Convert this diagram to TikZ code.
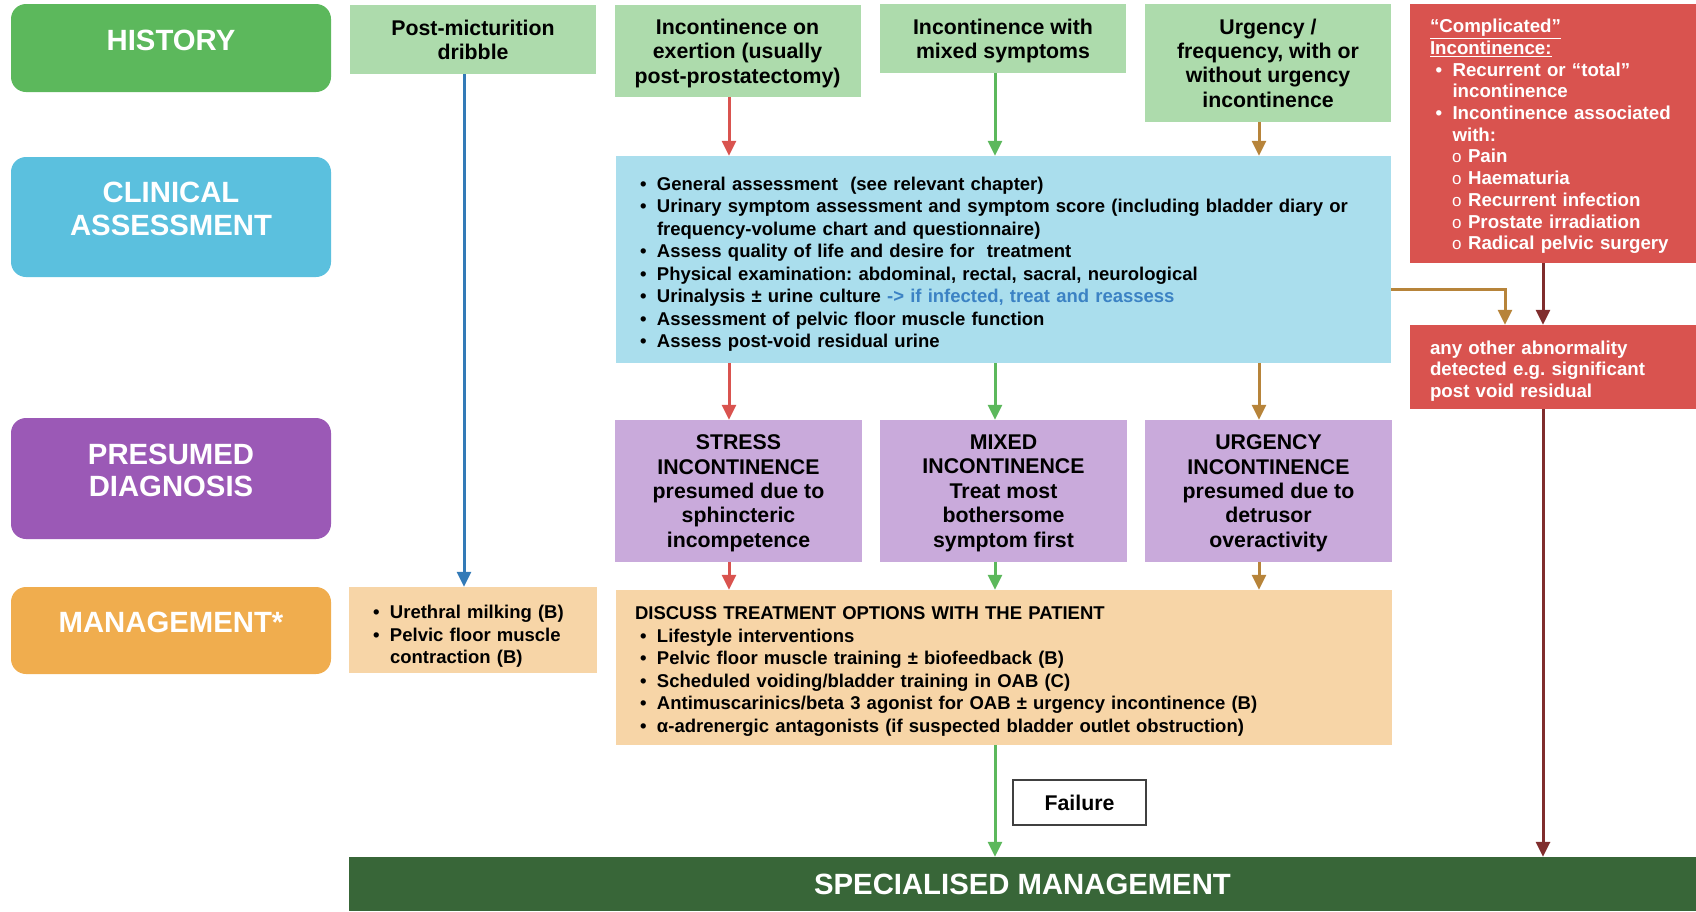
\documentclass[tikz,border=0pt]{standalone}
\usepackage{fontspec}
\setmainfont{Liberation Sans}
\usepackage{xcolor}
\usetikzlibrary{arrows.meta}

\definecolor{histgreen}{RGB}{92,184,92}
\definecolor{histlight}{RGB}{173,219,172}
\definecolor{clinblue}{RGB}{91,192,222}
\definecolor{clinlight}{RGB}{170,222,237}
\definecolor{diagpurple}{RGB}{155,89,182}
\definecolor{diaglight}{RGB}{201,170,219}
\definecolor{mgmtorange}{RGB}{240,173,78}
\definecolor{mgmtlight}{RGB}{247,213,167}
\definecolor{compred}{RGB}{217,83,79}
\definecolor{specgreen}{RGB}{56,102,56}
\definecolor{arrred}{RGB}{217,83,79}
\definecolor{arrbrown}{RGB}{183,132,58}
\definecolor{arrblue}{RGB}{51,122,183}
\definecolor{arrdark}{RGB}{128,45,45}
\definecolor{linkblue}{RGB}{59,130,196}

\frenchspacing
\newcommand{\bigfont}{\fontsize{29.3}{32.5}\selectfont\bfseries}
\newcommand{\midfont}{\fontsize{21.3}{24.4}\selectfont\bfseries}
\newcommand{\listfont}{\fontsize{18.5}{22.5}\selectfont\bfseries}
\newcommand{\redfont}{\fontsize{18.7}{21.7}\selectfont\bfseries}
\newcommand{\bul}[2][0pt]{\par\hangindent=\dimexpr#1+17pt\relax\hangafter=1\hspace*{#1}\makebox[17pt][l]{\textbullet}#2}
\newcommand{\subbul}[1]{\par\hspace*{22pt}\makebox[16pt][l]{\fontsize{17}{17}\selectfont\mdseries o}#1}
\newcommand{\lift}[1]{\rule{0pt}{#1pt}}
\newcommand{\sidebox}[5]{\node[sidebox,fill=#4,minimum height=#3pt] (#1) at (171,#2) {};
\node[sidetext] (#1t) at ([yshift=8pt]#1.center) {#5};}

\tikzset{
sidebox/.style={rounded corners=15pt, minimum width=320pt, inner sep=0pt},
sidetext/.style={text=white, font=\bigfont, align=center, inner sep=0pt},
headbox/.style={fill=histlight, minimum width=246pt, inner sep=0pt, align=center, font=\midfont, text depth=0pt},
diagbox/.style={fill=diaglight, minimum width=247pt, minimum height=142pt, inner sep=0pt, align=center, font=\midfont, text depth=0pt},
listbox/.style={inner xsep=19pt, inner ysep=0pt, align=left, font=\listfont},
redbox/.style={fill=compred, text=white, inner xsep=20pt, inner ysep=0pt, align=left, font=\redfont},
flow/.style={line width=3pt, -{Triangle[width=14pt,length=15pt]}}
}

\begin{document}
\begin{tikzpicture}[x=1pt,y=-1pt]
\useasboundingbox (0,0) rectangle (1696,911);

\sidebox{hist}{48}{88}{histgreen}{HISTORY}
\sidebox{clin}{217}{120}{clinblue}{CLINICAL\\ASSESSMENT}
\sidebox{diag}{478.5}{121}{diagpurple}{PRESUMED\\DIAGNOSIS}
\sidebox{mgmt}{630.5}{87}{mgmtorange}{MANAGEMENT*}

\node[headbox, minimum height=69pt] (pmd) at (473,39.5) {Post-micturition\\dribble};
\node[headbox, minimum height=92pt] (exer) at (737.5,51) {Incontinence on\\exertion (usually\\post-prostatectomy)};
\node[headbox, minimum height=69pt] (mixs) at (1003,38.5) {Incontinence with\\mixed symptoms};
\node[headbox, minimum height=118pt] (urgf) at (1268,63) {Urgency /\\frequency, with or\\without urgency\\incontinence};

\node[redbox, text width=246pt, minimum height=259pt] (comp) at (1553,133.5) {\lift{19.4}\underline{“Complicated”}\newline\underline{Incontinence:}
\bul[5.5pt]{Recurrent or “total”\newline incontinence}
\bul[5.5pt]{Incontinence associated\newline with:}
\subbul{Pain}
\subbul{Haematuria}
\subbul{Recurrent infection}
\subbul{Prostate irradiation}
\subbul{Radical pelvic surgery}\par};

\node[listbox, fill=clinlight, text width=737pt, minimum height=207pt] (clinbox) at (1003.5,259.5) {%
\bul[5pt]{General assessment~ (see relevant chapter)}
\bul[5pt]{Urinary symptom assessment and symptom score (including bladder diary or\newline frequency-volume chart and questionnaire)}
\bul[5pt]{Assess quality of life and desire for~ treatment}
\bul[5pt]{Physical examination: abdominal, rectal, sacral, neurological}
\bul[5pt]{Urinalysis ± urine culture {\color{linkblue}-> if infected, treat and reassess}}
\bul[5pt]{Assessment of pelvic floor muscle function}
\bul[5pt]{Assess post-void residual urine}\par};

\node[redbox, text width=246pt, minimum height=84pt] (any) at (1553,367) {\lift{21.3}any other abnormality\newline detected e.g. significant\newline post void residual\par};

\node[diagbox] (stress) at (738.5,491) {STRESS\\INCONTINENCE\\presumed due to\\sphincteric\\incompetence};
\node[diagbox] (mixd) at (1003.5,491) {MIXED\\INCONTINENCE\\Treat most\\bothersome\\symptom first};
\node[diagbox] (urgd) at (1268.5,491) {URGENCY\\INCONTINENCE\\presumed due to\\detrusor\\overactivity};

\node[listbox, fill=mgmtlight, text width=210pt, minimum height=86pt] (mgl) at (473,630) {%
\bul[5pt]{\lift{25.5}Urethral milking (B)}
\bul[5pt]{Pelvic floor muscle\newline contraction (B)}\par};
\node[listbox, fill=mgmtlight, text width=738pt, minimum height=155pt] (mgb) at (1004,667.5) {%
\lift{20.5}DISCUSS TREATMENT OPTIONS WITH THE PATIENT
\bul[5pt]{Lifestyle interventions}
\bul[5pt]{Pelvic floor muscle training ± biofeedback (B)}
\bul[5pt]{Scheduled voiding/bladder training in OAB (C)}
\bul[5pt]{Antimuscarinics/beta 3 agonist for OAB ± urgency incontinence (B)}
\bul[5pt]{α-adrenergic antagonists (if suspected bladder outlet obstruction)}\par};

\node[draw=black!75, line width=1.2pt, fill=white, minimum width=133pt, minimum height=45pt, inner sep=0pt, font=\midfont] (fail) at (1079.5,802.5) {Failure};
\node[fill=specgreen, text=white, minimum width=1347pt, minimum height=54pt, inner sep=0pt, font=\bigfont] (spec) at (1022.5,884) {SPECIALISED MANAGEMENT};

\coordinate (colB) at (464,0);
\coordinate (colR) at (729,0);
\coordinate (colG) at (995,0);
\coordinate (colO) at (1259,0);
\coordinate (colE) at (1505,0);
\coordinate (colD) at (1543,0);
\coordinate (tap) at (1391,289);

\draw[flow, arrblue] (pmd.south -| colB) -- (mgl.north -| colB);
\draw[flow, arrred] (exer.south -| colR) -- (clinbox.north -| colR);
\draw[flow, arrred] (clinbox.south -| colR) -- (stress.north -| colR);
\draw[flow, arrred] (stress.south -| colR) -- (mgb.north -| colR);
\draw[flow, histgreen] (mixs.south -| colG) -- (clinbox.north -| colG);
\draw[flow, histgreen] (clinbox.south -| colG) -- (mixd.north -| colG);
\draw[flow, histgreen] (mixd.south -| colG) -- (mgb.north -| colG);
\draw[flow, histgreen] (mgb.south -| colG) -- (spec.north -| colG);
\draw[flow, arrbrown] (urgf.south -| colO) -- (clinbox.north -| colO);
\draw[flow, arrbrown] (clinbox.south -| colO) -- (urgd.north -| colO);
\draw[flow, arrbrown] (urgd.south -| colO) -- (mgb.north -| colO);
\draw[flow, arrbrown] (clinbox.east |- tap) -| (any.north -| colE);
\draw[flow, arrdark] (comp.south -| colD) -- (any.north -| colD);
\draw[flow, arrdark] (any.south -| colD) -- (spec.north -| colD);

\end{tikzpicture}
\end{document}
